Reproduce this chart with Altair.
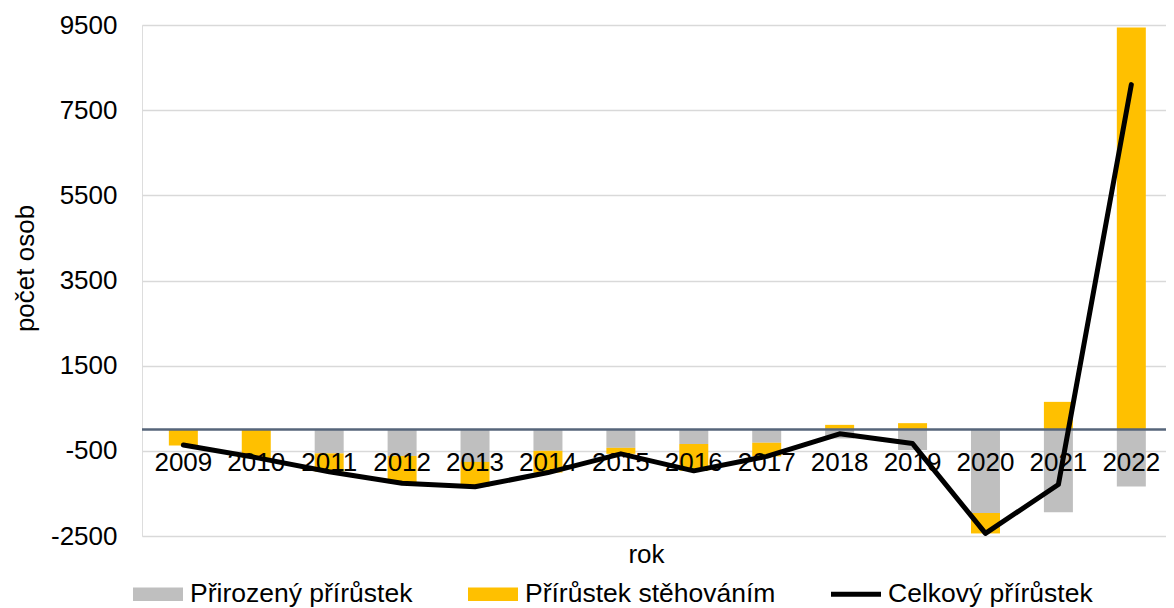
import altair as alt
import pandas as pd

# ---- data ----
years = list(range(2009, 2023))
natural = [10, 10, -560, -620, -760, -500, -430, -340, -310, -210, -480, -1960, -1940, -1340]
migration = [-375, -670, -430, -640, -585, -510, -140, -630, -320, 110, 150, -480, 650, 9440]
total = [-365, -660, -990, -1260, -1345, -1010, -570, -970, -630, -100, -330, -2440, -1290, 8100]
series = ["Přirozený přírůstek", "Přírůstek stěhováním", "Celkový přírůstek"]
colors = ["#bfbfbf", "#ffc000", "#000000"]
y_ticks = [-2500, -500, 1500, 3500, 5500, 7500, 9500]
year_labels = [str(y) for y in years]

FONT = "Liberation Sans"
FS = 26

bars_df = pd.DataFrame({
    "rok": years * 2,
    "serie": [series[0]] * len(years) + [series[1]] * len(years),
    "poradi": [0] * len(years) + [1] * len(years),
    "hodnota": natural + migration,
})
total_df = pd.DataFrame({"rok": years, "serie": series[2], "hodnota": total})
labels_df = pd.DataFrame({"rok": years, "popisek": year_labels})
zero_df = pd.DataFrame({"v": [0]})

xscale = alt.Scale(domain=[2008.5016, 2022.407], nice=False, zero=False)
yscale = alt.Scale(domain=[-2500, 9500], nice=False, zero=False)
cscale = alt.Scale(domain=series, range=colors)
rect = "M-1,-0.27H1V0.27H-1Z"
thin = "M-1,-0.1H1V0.1H-1Z"
sscale = alt.Scale(domain=series, range=[rect, rect, thin])

xaxis = alt.Axis(title="rok", labels=False, ticks=False, domain=False, grid=False,
                 titleFontSize=FS, titleFont=FONT, titleFontWeight="normal",
                 titleColor="black", titlePadding=5, titleX=504)
yaxis = alt.Axis(values=y_ticks, title="počet osob", titleFontSize=FS, titleFont=FONT,
                 titleFontWeight="normal", titleColor="black", titleX=-104, titleY=243,
                 labelFontSize=FS, labelFont=FONT, labelColor="black", labelPadding=25,
                 labelExpr="'' + datum.value",
                 ticks=False, domain=False, gridColor="#d9d9d9", gridWidth=1.5)

legend = alt.Legend(title=None, orient="none", legendX=-9, legendY=544, direction="horizontal",
                    symbolSize=2500, labelFontSize=26.5, labelFont=FONT, labelColor="black",
                    labelOffset=7, columnPadding=55, padding=0, symbolStrokeWidth=0,
                    labelLimit=400, symbolOpacity=1)

bars = alt.Chart(bars_df).mark_bar(size=29).encode(
    x=alt.X("rok:Q", scale=xscale, axis=xaxis),
    y=alt.Y("hodnota:Q", stack="zero", scale=yscale, axis=yaxis),
    color=alt.Color("serie:N", scale=cscale, legend=legend),
    order=alt.Order("poradi:Q"),
)

zero = alt.Chart(zero_df).mark_rule(color="#56657a", strokeWidth=2.5).encode(
    y=alt.Y("v:Q", scale=yscale)
)

year_text = alt.Chart(labels_df).mark_text(
    fontSize=FS, font=FONT, baseline="alphabetic", dy=41, color="black"
).encode(
    x=alt.X("rok:Q", scale=xscale),
    y=alt.datum(0),
    text="popisek:N",
)

line = alt.Chart(total_df).mark_line(
    color="black", strokeWidth=5, strokeCap="round", strokeJoin="round"
).encode(
    x=alt.X("rok:Q", scale=xscale),
    y=alt.Y("hodnota:Q", scale=yscale),
)

pts = alt.Chart(total_df).mark_point(filled=True, size=10, opacity=1).encode(
    x=alt.X("rok:Q", scale=xscale),
    y=alt.Y("hodnota:Q", scale=yscale),
    color=alt.Color("serie:N", scale=cscale, legend=legend),
    shape=alt.Shape("serie:N", scale=sscale, legend=legend),
)

chart = alt.layer(bars, zero, year_text, line, pts).properties(
    width=1024, height=511,
    autosize=alt.AutoSizeParams(type="none"),
    padding={"left": 134, "top": 17, "right": 0, "bottom": 74},
    background="white",
).configure_view(stroke=None).configure(font=FONT)

chart.save("out.html", embed_options={"renderer": "svg", "actions": False})
